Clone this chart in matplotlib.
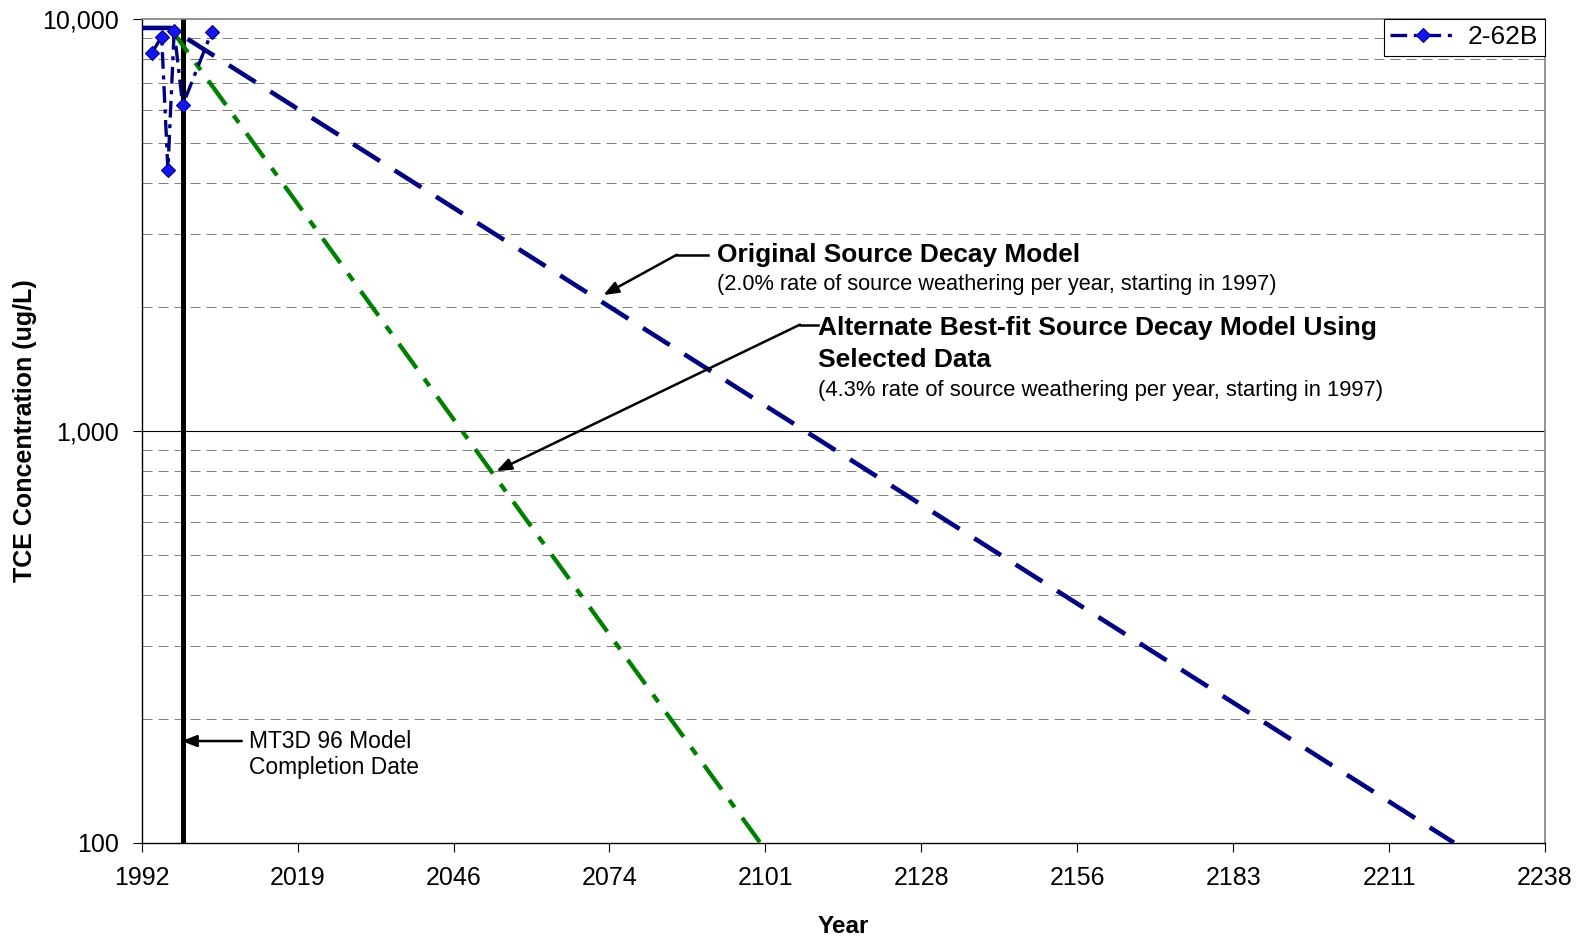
""" Plot TCE source decay models against monitoring data for well 2-62B """
import matplotlib
matplotlib.use("Agg")
import numpy as np
import matplotlib.pyplot as plt

plt.rcParams['font.family'] = ['Liberation Sans', 'DejaVu Sans']

# measured TCE at 2-62B (decimal year, ug/L)
obs_years = [1993.8, 1995.5, 1996.6, 1997.7, 1999.2, 2004.3]
obs_conc = [8270, 9040, 4300, 9350, 6170, 9300]

# original model: 2.0 %/yr source weathering from 1997
orig_years = [1992.0, 1997.0, 2222.4]
orig_conc = [9500, 9500, 100]

# alternate best-fit model: 4.3 %/yr from 1997
alt_years = [1997.0, 2100.6]
alt_conc = [9500, 100]

model_completion = 1999.2

x_start = 1992.0
x_step = 10000 / 365.25          # axis major unit is 10000 days
x_labels = ["1992", "2019", "2046", "2074", "2101",
            "2128", "2156", "2183", "2211", "2238"]
y_major = [100, 1000, 10000]
y_labels = ["100", "1,000", "10,000"]
y_minor = [200, 300, 400, 500, 600, 700, 800, 900,
           2000, 3000, 4000, 5000, 6000, 7000, 8000, 9000]

GREY = '#808080'
NAVY = '#000080'

fig = plt.figure(figsize=(15.85, 9.42), dpi=100)
ax = fig.add_axes([0.0894, 0.1054, 0.8854, 0.8747])

x_ticks = x_start + np.arange(len(x_labels)) * x_step
ax.set_yscale('log')
ax.set_xlim(x_ticks[0], x_ticks[-1])
ax.set_ylim(y_major[0], y_major[-1])

# gridlines
for val in y_minor:
    ax.axhline(val, color=GREY, lw=0.72, linestyle=(0, (10, 6)), zorder=1)
ax.axhline(1000, color='black', lw=0.8, zorder=1)

# model completion marker
ax.axvline(model_completion, color='black', lw=3.6, zorder=2)

# decay models
ax.plot(orig_years, orig_conc, color=NAVY, lw=3.3,
        linestyle=(0, (6.9, 3.8)), zorder=3)
ax.plot(alt_years, alt_conc, color='#008000', lw=3.1,
        linestyle=(0, (7, 3, 2.1, 3)), zorder=3)

# monitoring data
ax.plot(obs_years, obs_conc, color=NAVY, lw=2.4,
        linestyle=(0, (5, 2, 1.2, 2)), marker='D', ms=7.5,
        mfc='#1515f0', mec=NAVY, mew=0.8, label='2-62B', zorder=4)

ax.set_xticks(x_ticks, x_labels)
ax.set_yticks(y_major, y_labels)
ax.set_yticks([], minor=True)
ax.tick_params(axis='both', which='major', labelsize=18, length=9 / 1.389,
               width=0.8, direction='out', pad=10)

for side in ('top', 'right'):
    ax.spines[side].set_color(GREY)
    ax.spines[side].set_linewidth(1.2)
for side in ('left', 'bottom'):
    ax.spines[side].set_color('black')
    ax.spines[side].set_linewidth(1.0)

ax.set_xlabel('Year', fontsize=17.5, fontweight='bold', labelpad=18)
ax.set_ylabel('TCE Concentration (ug/L)', fontsize=18, fontweight='bold')
ax.yaxis.set_label_coords(-0.0746, 0.5)

# annotations
tx = ax.transAxes
arrow_kw = dict(arrowstyle='-|>,head_length=0.9,head_width=0.35',
                color='black', lw=1.8, shrinkA=0, shrinkB=0)

ax.text(0.410, 0.7136, 'Original Source Decay Model', transform=tx,
        fontsize=18.9, fontweight='bold', va='center')
ax.text(0.410, 0.677,
        '(2.0% rate of source weathering per year, starting in 1997)',
        transform=tx, fontsize=15.7, va='center')
ax.plot([0.4037, 0.3813], [0.7136, 0.7136], color='black', lw=1.8,
        transform=tx, clip_on=False)
ax.annotate('', xy=(0.3290, 0.6647), xytext=(0.3813, 0.7136),
            xycoords='axes fraction', arrowprops=arrow_kw)

ax.text(0.482, 0.625, 'Alternate Best-fit Source Decay Model Using',
        transform=tx, fontsize=19, fontweight='bold', va='center')
ax.text(0.482, 0.586, 'Selected Data', transform=tx, fontsize=19,
        fontweight='bold', va='center')
ax.text(0.482, 0.549,
        '(4.3% rate of source weathering per year, starting in 1997)',
        transform=tx, fontsize=15.8, va='center')
ax.plot([0.4822, 0.4691], [0.6288, 0.6288], color='black', lw=1.8,
        transform=tx, clip_on=False)
ax.annotate('', xy=(0.2527, 0.4510), xytext=(0.4691, 0.6288),
            xycoords='axes fraction', arrowprops=arrow_kw)

ax.text(0.0768, 0.1234, 'MT3D 96 Model', transform=tx, fontsize=16.4,
        va='center')
ax.text(0.0768, 0.0907, 'Completion Date', transform=tx, fontsize=16.4,
        va='center')
ax.annotate('', xy=(0.0285, 0.1234), xytext=(0.0713, 0.1234),
            xycoords='axes fraction', arrowprops=arrow_kw)

leg = ax.legend(loc='upper right', fontsize=19, frameon=True, fancybox=False,
                edgecolor='black', framealpha=1, borderaxespad=0.0,
                handlelength=2.5, handletextpad=0.45, borderpad=0.25)
leg.get_frame().set_linewidth(0.8)

fig.savefig('out.png', dpi=100)
